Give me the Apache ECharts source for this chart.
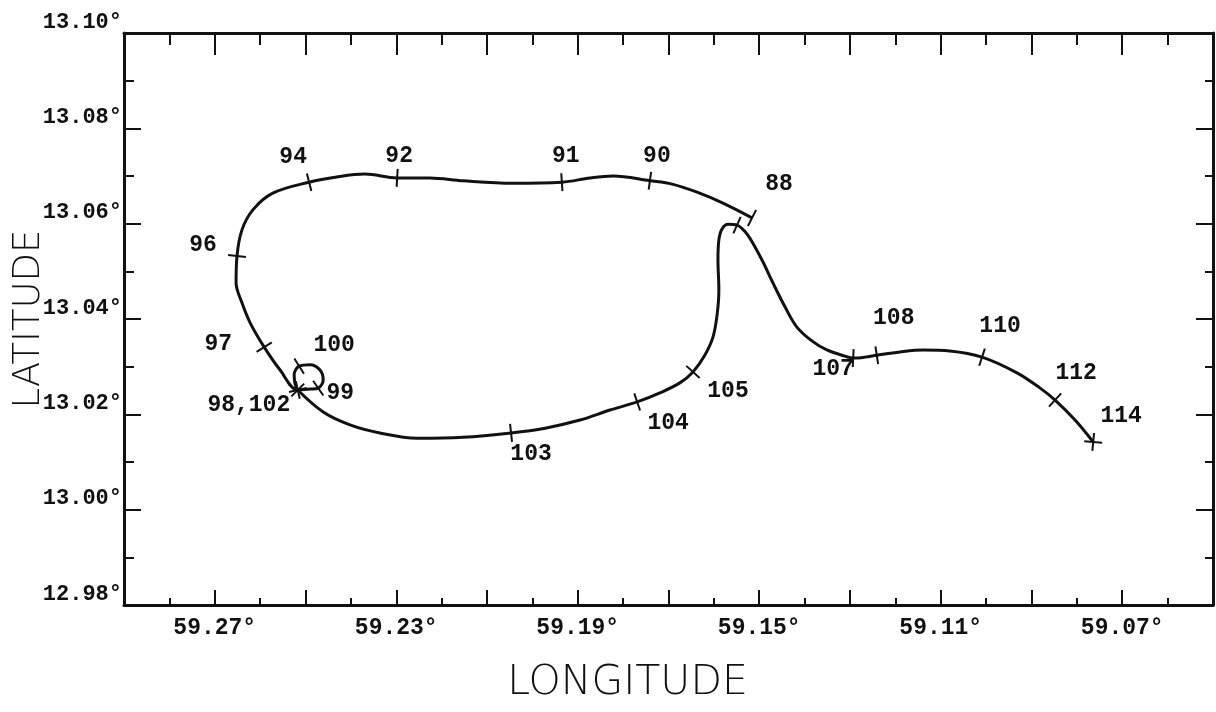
<!DOCTYPE html>
<html>
<head>
<meta charset="utf-8">
<script src="https://cdn.jsdelivr.net/npm/echarts@6/dist/echarts.min.js"></script>
<style>
  html, body { margin: 0; padding: 0; background: #ffffff; }
  #chart { width: 1216px; height: 712px; }
</style>
</head>
<body>
<div id="chart"></div>
<script>
// Ship track, hours 88 to 114: longitude (deg E) and latitude (deg N) along the path
const trackLon = [
  59.1516, 59.1580, 59.1637, 59.1692, 59.1741, 59.1822, 59.1873, 59.1935, 59.2043, 59.2153,
  59.2226, 59.2298, 59.2369, 59.2431, 59.2492, 59.2572, 59.2616, 59.2640, 59.2651, 59.2653,
  59.2640, 59.2622, 59.2591, 59.2556, 59.2517, 59.2490, 59.2472, 59.2461, 59.2468, 59.2490,
  59.2514, 59.2525, 59.2523, 59.2517, 59.2461, 59.2402, 59.2336, 59.2254, 59.2153, 59.2047,
  59.1972, 59.1895, 59.1829, 59.1769, 59.1719, 59.1675, 59.1646, 59.1620, 59.1602, 59.1593,
  59.1589, 59.1591, 59.1589, 59.1582, 59.1569, 59.1549, 59.1531, 59.1514, 59.1492, 59.1470,
  59.1443, 59.1417, 59.1384, 59.1351, 59.1311, 59.1293, 59.1267, 59.1241, 59.1190, 59.1139,
  59.1080, 59.1009, 59.0932, 59.0881, 59.0848, 59.0804, 59.0764
];
const trackLat = [
  13.0612, 13.0643, 13.0666, 13.0683, 13.0690, 13.0700, 13.0696, 13.0687, 13.0685, 13.0690,
  13.0696, 13.0696, 13.0704, 13.0698, 13.0687, 13.0664, 13.0629, 13.0587, 13.0532, 13.0476,
  13.0434, 13.0392, 13.0341, 13.0293, 13.0251, 13.0253, 13.0255, 13.0272, 13.0293, 13.0304,
  13.0301, 13.0283, 13.0264, 13.0251, 13.0205, 13.0178, 13.0161, 13.0150, 13.0152, 13.0161,
  13.0171, 13.0188, 13.0209, 13.0226, 13.0245, 13.0266, 13.0289, 13.0324, 13.0362, 13.0408,
  13.0461, 13.0524, 13.0566, 13.0589, 13.0599, 13.0597, 13.0583, 13.0559, 13.0520, 13.0476,
  13.0425, 13.0383, 13.0354, 13.0335, 13.0322, 13.0318, 13.0320, 13.0324, 13.0331, 13.0335,
  13.0333, 13.0320, 13.0287, 13.0255, 13.0230, 13.0188, 13.0142
];
// Time marks along the track: index into the track and the hour written beside it ('' = unlabelled mark)
const markIndex = [0, 4, 7, 11, 14, 18, 22, 24, 26, 30, 33, 39, 43, 46, 55, 65, 67, 71, 74, 76];
const markText  = ['88', '90', '91', '92', '94', '96', '97', '98,102', '99', '100', '', '103', '104', '105', '', '107', '108', '110', '112', '114'];

// Axis ranges and labelled ticks
const lonMin = 59.05, lonMax = 59.29, lonStep = 0.02;
const latMin = 12.98, latMax = 13.10, latStep = 0.02;
const lonLabels = ['59.27', '59.23', '59.19', '59.15', '59.11', '59.07'];

// Placement of each hour label relative to its mark, in pixels
const labelShift = {
  '88': [27, -34], '90': [7, -25], '91': [4, -26], '92': [2, -22], '94': [-16, -25],
  '96': [-34, -11], '97': [-46, -3], '98,102': [-49, 15], '99': [22, 5], '100': [35, -21],
  '103': [20, 21], '104': [31, 21], '105': [35, 19], '107': [-20, 11], '108': [17, -37],
  '110': [18, -31], '112': [21, -27], '114': [28, -26]
};
const crossMarks = ['98,102', '114'];

const INK = '#111111';
const MONO = '"Liberation Mono", "DejaVu Sans Mono", monospace';

const chart = echarts.init(document.getElementById('chart'), null, { renderer: 'canvas' });

const trackData = trackLon.map((lon, i) => [lon, trackLat[i]]);
const markData = markIndex.map((idx, k) => [trackLon[idx], trackLat[idx], idx, k]);

function renderMark(params, api) {
  const idx = api.value(2);
  const k = api.value(3);
  const label = markText[k];
  const p = api.coord([api.value(0), api.value(1)]);
  const i0 = Math.max(0, idx - 1), i1 = Math.min(trackLon.length - 1, idx + 1);
  const a = api.coord([trackLon[i0], trackLat[i0]]);
  const b = api.coord([trackLon[i1], trackLat[i1]]);
  let dx = b[0] - a[0], dy = b[1] - a[1];
  const len = Math.hypot(dx, dy) || 1;
  dx /= len; dy /= len;
  const half = 9;
  const children = [];
  const lineStyle = { stroke: INK, lineWidth: 2 };
  if (crossMarks.indexOf(label) >= 0) {
    const c = Math.SQRT1_2;
    const u = [(dx - dy) * c, (dy + dx) * c];
    const v = [(dx + dy) * c, (dy - dx) * c];
    [u, v].forEach(d => children.push({
      type: 'line',
      shape: { x1: p[0] - d[0] * half, y1: p[1] - d[1] * half, x2: p[0] + d[0] * half, y2: p[1] + d[1] * half },
      style: lineStyle
    }));
  } else {
    const nx = -dy, ny = dx;
    children.push({
      type: 'line',
      shape: { x1: p[0] - nx * half, y1: p[1] - ny * half, x2: p[0] + nx * half, y2: p[1] + ny * half },
      style: lineStyle
    });
  }
  if (label) {
    const s = labelShift[label] || [0, -20];
    children.push({
      type: 'text',
      x: p[0] + s[0],
      y: p[1] + s[1],
      style: { text: label, font: 'bold 23px ' + MONO, fill: INK, align: 'center', verticalAlign: 'middle' }
    });
  }
  return { type: 'group', children };
}

function lonLabel(v) {
  const t = v.toFixed(2);
  return lonLabels.indexOf(t) >= 0 ? t + '\u00b0' : '';
}

const baseX = {
  type: 'value', min: lonMin, max: lonMax, interval: lonStep, inverse: true,
  splitLine: { show: false },
  axisLine: { show: true, onZero: false, lineStyle: { color: INK, width: 3 } }
};
const baseY = {
  type: 'value', min: latMin, max: latMax, interval: latStep,
  splitLine: { show: false },
  axisLine: { show: true, onZero: false, lineStyle: { color: INK, width: 3 } }
};

chart.setOption({
  backgroundColor: '#ffffff',
  animation: false,
  grid: { left: 124, right: 3, top: 33, bottom: 107, containLabel: false, outerBoundsMode: 'none' },
  xAxis: [
    Object.assign({}, baseX, {
      position: 'bottom',
      name: 'LONGITUDE', nameLocation: 'middle', nameGap: 58, nameMoveOverlap: false,
      nameTextStyle: { fontFamily: '"DejaVu Sans", sans-serif', fontSize: 41, fontWeight: 200, color: INK, padding: [0, 82, 0, 0] },
      axisTick: { show: true, inside: true, length: 15, lineStyle: { color: INK, width: 2 } },
      minorTick: { show: true, splitNumber: 2, length: 7, lineStyle: { color: INK, width: 2 } },
      axisLabel: { show: true, margin: 12, formatter: lonLabel, fontFamily: MONO, fontWeight: 'bold', fontSize: 23, color: INK, showMinLabel: true, showMaxLabel: true }
    }),
    Object.assign({}, baseX, {
      position: 'top',
      axisTick: { show: true, inside: true, length: 22, lineStyle: { color: INK, width: 2 } },
      minorTick: { show: true, splitNumber: 2, length: 12, lineStyle: { color: INK, width: 2 } },
      axisLabel: { show: false }
    })
  ],
  yAxis: [
    Object.assign({}, baseY, {
      position: 'left',
      name: 'LATITUDE', nameLocation: 'middle', nameGap: 76, nameMoveOverlap: false,
      nameTextStyle: { fontFamily: '"DejaVu Sans", sans-serif', fontSize: 37, fontWeight: 200, color: INK },
      axisTick: { show: true, inside: true, length: 17, lineStyle: { color: INK, width: 2 } },
      minorTick: { show: true, splitNumber: 2, length: 10, lineStyle: { color: INK, width: 2 } },
      axisLabel: {
        show: true, margin: 2, verticalAlign: 'bottom',
        formatter: v => v.toFixed(2) + '\u00b0',
        fontFamily: MONO, fontWeight: 'bold', fontSize: 22, color: INK, showMinLabel: true, showMaxLabel: true
      }
    }),
    Object.assign({}, baseY, {
      position: 'right',
      axisTick: { show: true, inside: true, length: 17, lineStyle: { color: INK, width: 2 } },
      minorTick: { show: true, splitNumber: 2, length: 8, lineStyle: { color: INK, width: 2 } },
      axisLabel: { show: false }
    })
  ],
  series: [
    {
      type: 'line',
      xAxisIndex: 0, yAxisIndex: 0,
      data: trackData,
      smooth: 0.35,
      showSymbol: false,
      symbol: 'none',
      lineStyle: { color: INK, width: 3 },
      clip: false
    },
    {
      type: 'custom',
      xAxisIndex: 0, yAxisIndex: 0,
      data: markData,
      encode: { x: 0, y: 1 },
      renderItem: renderMark,
      clip: false,
      z: 3
    }
  ]
});
</script>
</body>
</html>
